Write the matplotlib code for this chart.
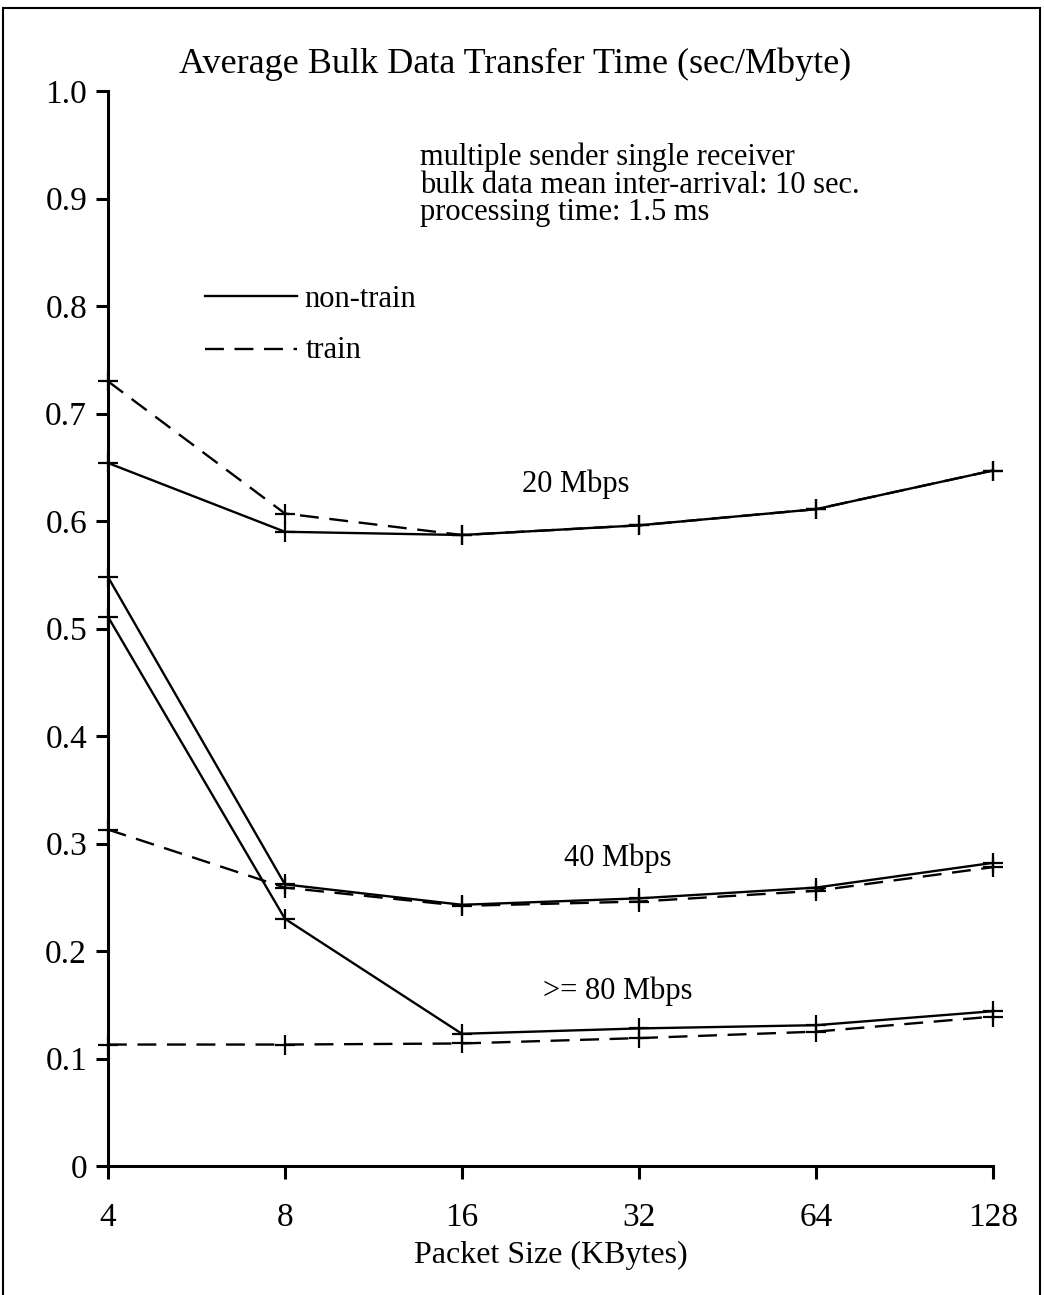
import matplotlib
matplotlib.use("Agg")
import matplotlib.pyplot as plt
from matplotlib.patches import Rectangle
from matplotlib.ticker import FixedLocator, NullLocator

plt.rcParams['font.family'] = ['Liberation Serif', 'DejaVu Serif']

# packet sizes (KBytes)
sizes = [4, 8, 16, 32, 64, 128]

# 20 Mbps
nt20 = [0.654, 0.590, 0.587, 0.596, 0.611, 0.647]
tr20 = [0.730, 0.607, 0.587, 0.596, 0.611, 0.647]
# 40 Mbps
nt40 = [0.548, 0.262, 0.243, 0.249, 0.259, 0.282]
tr40 = [0.313, 0.259, 0.242, 0.246, 0.256, 0.278]
# >= 80 Mbps
nt80 = [0.511, 0.230, 0.123, 0.128, 0.131, 0.144]
tr80 = [0.113, 0.113, 0.114, 0.119, 0.125, 0.139]

fig = plt.figure(figsize=(10.44, 12.95), dpi=100)
ax = fig.add_axes([0.1034, 0.0996, 0.951 - 0.1034, 0.9297 - 0.0996])

lw = 1.7
for nt, tr in [(nt20, tr20), (nt40, tr40), (nt80, tr80)]:
    ax.plot(sizes, nt, color='black', lw=lw, marker='+', ms=14, mew=1.6,
            clip_on=False)
    ax.plot(sizes, tr, color='black', lw=lw, marker='+', ms=14, mew=1.6,
            dashes=(8, 4.5), clip_on=False)

ax.set_xscale('log', base=2)
ax.set_xlim(4, 128)
ax.set_ylim(0, 1.0)
ax.xaxis.set_major_locator(FixedLocator(sizes))
ax.xaxis.set_minor_locator(NullLocator())
ax.set_xticklabels([str(s) for s in sizes])
yt = [0, 0.1, 0.2, 0.3, 0.4, 0.5, 0.6, 0.7, 0.8, 0.9, 1.0]
ax.set_yticks(yt)
ax.set_yticklabels(['0'] + ['%.1f' % v for v in yt[1:]])

for s in ['top', 'right']:
    ax.spines[s].set_visible(False)
for s in ['left', 'bottom']:
    ax.spines[s].set_linewidth(2.2)
ax.tick_params(direction='out', length=9, width=2.2, labelsize=24, pad=6)
ax.tick_params(axis='x', pad=17)

ax.set_xlabel('Packet Size (KBytes)', fontsize=23, labelpad=6)
fig.text(0.493, 1 - 73 / 1295, 'Average Bulk Data Transfer Time (sec/Mbyte)',
         ha='center', va='baseline', fontsize=26)

ax.text(0.353, 0.952, 'multiple sender single receiver\n'
        'bulk data mean inter-arrival: 10 sec.\n'
        'processing time: 1.5 ms',
        transform=ax.transAxes, ha='left', va='top', fontsize=22,
        linespacing=0.93)

# legend drawn by hand
ax.plot([0.110, 0.214], [0.809, 0.809], transform=ax.transAxes,
        color='black', lw=lw, clip_on=False)
ax.text(0.222, 0.806, 'non-train', transform=ax.transAxes,
        ha='left', va='center', fontsize=22)
ax.plot([0.110, 0.214], [0.76, 0.76], transform=ax.transAxes,
        color='black', lw=lw, dashes=(8, 4.5), clip_on=False)
ax.text(0.224, 0.759, 'train', transform=ax.transAxes,
        ha='left', va='center', fontsize=22)

ax.text(0.529, 0.634, '20 Mbps', transform=ax.transAxes,
        ha='center', va='center', fontsize=22)
ax.text(0.576, 0.286, '40 Mbps', transform=ax.transAxes,
        ha='center', va='center', fontsize=22)
ax.text(0.576, 0.163, '>= 80 Mbps', transform=ax.transAxes,
        ha='center', va='center', fontsize=22)

# page frame
fig.patches.append(Rectangle((0.003, -0.01), 0.9932, 1.0038,
                             transform=fig.transFigure, fill=False,
                             ec='black', lw=1.5))

fig.savefig('out.png', dpi=100, facecolor='white')
